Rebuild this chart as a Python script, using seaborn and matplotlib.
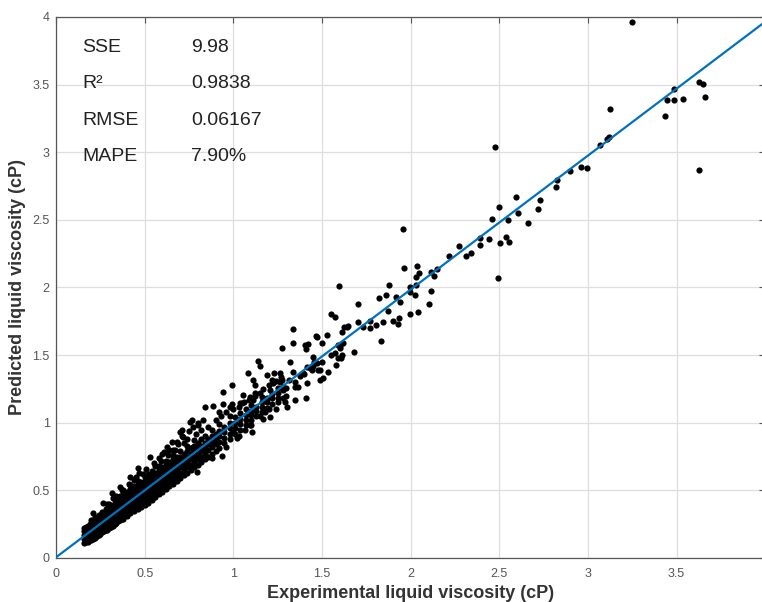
import matplotlib
matplotlib.use("Agg")
import matplotlib.pyplot as plt
import seaborn as sns
import pandas as pd

# Dense band of low-viscosity samples: experimental value -> predicted values
core_columns = [
    (0.16, [0.11, 0.14, 0.17, 0.20, 0.22]),
    (0.17, [0.12, 0.15, 0.18, 0.21, 0.23]),
    (0.18, [0.12, 0.15, 0.18, 0.21, 0.24]),
    (0.19, [0.13, 0.16, 0.19, 0.22, 0.25]),
    (0.20, [0.13, 0.16, 0.19, 0.22, 0.25, 0.28]),
    (0.21, [0.14, 0.17, 0.20, 0.23, 0.26]),
    (0.22, [0.15, 0.18, 0.21, 0.24, 0.27, 0.30]),
    (0.23, [0.16, 0.19, 0.22, 0.25, 0.28]),
    (0.24, [0.17, 0.20, 0.23, 0.26, 0.29, 0.32]),
    (0.25, [0.18, 0.21, 0.24, 0.27, 0.30]),
    (0.26, [0.19, 0.22, 0.25, 0.28, 0.31, 0.34]),
    (0.27, [0.20, 0.23, 0.26, 0.29, 0.32]),
    (0.28, [0.21, 0.24, 0.27, 0.30, 0.33, 0.36]),
    (0.29, [0.21, 0.24, 0.27, 0.30, 0.33, 0.36]),
    (0.30, [0.22, 0.25, 0.28, 0.31, 0.34, 0.37, 0.40]),
    (0.31, [0.23, 0.26, 0.29, 0.32, 0.35, 0.38]),
    (0.32, [0.24, 0.27, 0.30, 0.33, 0.36, 0.39]),
    (0.33, [0.25, 0.28, 0.31, 0.34, 0.37, 0.40, 0.43]),
    (0.34, [0.26, 0.29, 0.32, 0.35, 0.38, 0.41]),
    (0.35, [0.27, 0.30, 0.33, 0.36, 0.39, 0.42]),
    (0.36, [0.28, 0.31, 0.34, 0.37, 0.40, 0.43, 0.46]),
    (0.37, [0.29, 0.32, 0.35, 0.38, 0.41, 0.44]),
    (0.38, [0.29, 0.32, 0.35, 0.38, 0.41, 0.44, 0.47]),
    (0.40, [0.31, 0.34, 0.37, 0.40, 0.43, 0.46, 0.49]),
    (0.42, [0.33, 0.36, 0.39, 0.42, 0.45, 0.48, 0.51, 0.54]),
    (0.44, [0.35, 0.38, 0.41, 0.44, 0.47, 0.50, 0.53]),
    (0.46, [0.36, 0.39, 0.42, 0.45, 0.48, 0.51, 0.54, 0.57]),
    (0.48, [0.38, 0.41, 0.44, 0.47, 0.50, 0.53, 0.56]),
    (0.50, [0.39, 0.42, 0.45, 0.48, 0.51, 0.54, 0.57, 0.60]),
    (0.52, [0.41, 0.44, 0.47, 0.50, 0.53, 0.56, 0.59, 0.62]),
    (0.54, [0.43, 0.46, 0.49, 0.52, 0.55, 0.58, 0.61, 0.64]),
    (0.56, [0.45, 0.48, 0.51, 0.54, 0.57, 0.60, 0.63]),
    (0.58, [0.47, 0.50, 0.53, 0.56, 0.59, 0.62, 0.65, 0.68]),
    (0.60, [0.49, 0.52, 0.55, 0.58, 0.61, 0.64, 0.67]),
    (0.62, [0.51, 0.54, 0.57, 0.60, 0.63, 0.66, 0.69, 0.72]),
    (0.64, [0.53, 0.56, 0.59, 0.62, 0.65, 0.68, 0.71]),
    (0.66, [0.55, 0.58, 0.61, 0.64, 0.67, 0.70, 0.73, 0.76]),
    (0.68, [0.57, 0.60, 0.63, 0.66, 0.69, 0.72, 0.75]),
    (0.70, [0.59, 0.63, 0.67, 0.71, 0.75, 0.79]),
    (0.72, [0.61, 0.65, 0.69, 0.73, 0.77]),
    (0.74, [0.63, 0.67, 0.71, 0.75, 0.79, 0.83]),
    (0.76, [0.65, 0.69, 0.73, 0.77, 0.81]),
    (0.78, [0.67, 0.71, 0.75, 0.79, 0.83, 0.87]),
    (0.80, [0.69, 0.73, 0.77, 0.81, 0.85]),
    (0.82, [0.71, 0.75, 0.79, 0.83, 0.88]),
    (0.84, [0.73, 0.77, 0.81, 0.85, 0.90]),
    (0.86, [0.75, 0.80, 0.84, 0.88]),
    (0.88, [0.77, 0.82, 0.86, 0.90, 0.95]),
    (0.90, [0.79, 0.84, 0.88, 0.92]),
    (0.92, [0.81, 0.86, 0.90, 0.94, 0.99]),
    (0.95, [0.85, 0.89, 0.93, 0.97]),
    (0.98, [0.88, 0.92, 0.96, 1.00, 1.05]),
    (1.01, [0.92, 0.96, 1.00, 1.04]),
    (1.04, [0.95, 0.99, 1.03, 1.07]),
    (1.07, [0.98, 1.02, 1.06, 1.10]),
    (1.10, [1.02, 1.06, 1.09, 1.13]),
    (1.13, [1.05, 1.09, 1.12]),
    (1.16, [1.08, 1.12, 1.15, 1.19]),
    (1.19, [1.11, 1.15, 1.18]),
    (1.22, [1.14, 1.18, 1.21]),
    (1.25, [1.18, 1.22, 1.26]),
]

# Scattered samples around the band (experimental, predicted)
spread_points = [
    (0.21, 0.33), (0.267, 0.404), (0.29, 0.40), (0.314, 0.478), (0.34, 0.46),
    (0.361, 0.527), (0.38, 0.50), (0.417, 0.601), (0.44, 0.58), (0.464, 0.663),
    (0.49, 0.62), (0.53, 0.749), (0.55, 0.70), (0.58, 0.74), (0.60, 0.77),
    (0.624, 0.823), (0.652, 0.86), (0.66, 0.80), (0.709, 0.946), (0.718, 0.897),
    (0.70, 0.934), (0.756, 1.008), (0.765, 1.02), (0.775, 0.823), (0.803, 0.996),
    (0.822, 0.799), (0.84, 1.114), (0.85, 0.848), (0.887, 1.124), (0.921, 1.082),
    (0.944, 1.139), (0.94, 1.23), (0.98, 1.12), (0.991, 1.139), (0.994, 1.277),
    (1.038, 1.148), (1.047, 1.144), (1.056, 1.205), (1.081, 1.37), (1.094, 1.193),
    (1.113, 1.168), (1.113, 1.316), (1.122, 1.279), (1.122, 1.218), (1.141, 1.459),
    (1.151, 1.42), (1.151, 1.218), (1.188, 1.353), (1.207, 1.242), (1.217, 1.316),
    (1.226, 1.291), (1.23, 1.37), (1.263, 1.37), (1.263, 1.304), (1.273, 1.316),
    (1.276, 1.555), (1.282, 1.267), (1.282, 1.181), (1.282, 1.242), (1.301, 1.119),
    (1.316, 1.316), (1.32, 1.451), (1.335, 1.695), (1.337, 1.587), (1.338, 1.377),
    (1.348, 1.267), (1.348, 1.168), (1.367, 1.267), (1.376, 1.348), (1.395, 1.366),
    (0.934, 0.754), (0.793, 0.638), (1.0, 0.946), (1.066, 0.946), (1.094, 0.983),
    (1.019, 0.885), (1.104, 0.934), (1.207, 1.045), (1.15, 1.05), (1.2, 1.1),
    (1.25, 1.15), (1.18, 1.08), (1.3, 1.2), (1.3, 1.26), (1.35, 1.30),
    (1.4, 1.36), (1.45, 1.42), (1.5, 1.45), (1.55, 1.5), (1.6, 1.57),
    (0.32, 0.44), (0.37, 0.50), (0.41, 0.55), (0.45, 0.60), (0.47, 0.63),
    (0.51, 0.66), (0.56, 0.68), (0.59, 0.72), (0.63, 0.76), (0.67, 0.80),
    (0.69, 0.84), (0.72, 0.85), (0.74, 0.88), (0.79, 0.92), (0.82, 0.95),
    (0.86, 0.97), (0.90, 1.02), (0.93, 1.05), (0.96, 1.08), (1.00, 1.10),
    (1.03, 1.12), (1.06, 1.15), (1.09, 1.17), (1.12, 1.20), (1.17, 1.25),
    (1.20, 1.28), (1.24, 1.31), (1.27, 1.34), (0.88, 0.74), (0.96, 0.82),
    (1.03, 0.90), (1.10, 0.98), (1.17, 1.03), (1.24, 1.10), (1.29, 1.15),
    (0.61, 0.78), (0.64, 0.80), (0.68, 0.86), (0.71, 0.90), (0.75, 0.94),
    (0.77, 0.97), (0.80, 0.98), (0.83, 1.02),
]

# Higher-viscosity samples (experimental, predicted)
upper_points = [
    (1.404, 1.575), (1.41, 1.543), (1.41, 1.185), (1.414, 1.414), (1.414, 1.291),
    (1.42, 1.58), (1.433, 1.402), (1.442, 1.39), (1.451, 1.488), (1.457, 1.451),
    (1.465, 1.641), (1.47, 1.44), (1.47, 1.636), (1.48, 1.39), (1.489, 1.316),
    (1.489, 1.39), (1.499, 1.587), (1.504, 1.329), (1.527, 1.647), (1.536, 1.377),
    (1.551, 1.802), (1.572, 1.784), (1.574, 1.513), (1.579, 1.427), (1.592, 1.575),
    (1.592, 1.476), (1.594, 2.009), (1.602, 1.55), (1.606, 1.476), (1.611, 1.673),
    (1.611, 1.501), (1.617, 1.587), (1.626, 1.71), (1.639, 1.71), (1.645, 1.718),
    (1.683, 1.523), (1.701, 1.881), (1.703, 1.743), (1.73, 1.71), (1.771, 1.755),
    (1.771, 1.698), (1.803, 1.723), (1.824, 1.925), (1.833, 1.602), (1.842, 1.747),
    (1.863, 1.945), (1.871, 1.829), (1.876, 2.018), (1.899, 1.755), (1.916, 1.93),
    (1.931, 1.728), (1.933, 1.772), (1.94, 1.895), (1.959, 2.433), (1.961, 2.146),
    (1.995, 1.802), (1.997, 1.965), (1.998, 2.001), (2.023, 1.945), (2.029, 2.016),
    (2.032, 2.075), (2.034, 2.161), (2.04, 1.819), (2.047, 2.105), (2.102, 1.876),
    (2.117, 2.117), (2.117, 1.976), (2.134, 2.085), (2.149, 2.136), (2.214, 2.235),
    (2.273, 2.307), (2.313, 2.235), (2.34, 2.258), (2.39, 2.313), (2.39, 2.368),
    (2.442, 2.356), (2.461, 2.504), (2.476, 3.039), (2.495, 2.072), (2.50, 2.597),
    (2.506, 2.327), (2.538, 2.371), (2.551, 2.499), (2.553, 2.339), (2.594, 2.667),
    (2.608, 2.549), (2.662, 2.477), (2.719, 2.583), (2.732, 2.649), (2.822, 2.743),
    (2.828, 2.793), (2.897, 2.864), (2.96, 2.893), (2.995, 2.886), (3.068, 3.054),
    (3.11, 3.096), (3.12, 3.113), (3.123, 3.32), (3.25, 3.96), (3.435, 3.27),
    (3.448, 3.384), (3.486, 3.465), (3.486, 3.384), (3.535, 3.394), (3.625, 3.52),
    (3.647, 3.507), (3.627, 2.871), (3.66, 3.41),
]

# Fitted line and goodness-of-fit statistics
fit_slope = 0.99
fit_intercept = 0.005
stat_names = ["SSE", "R²", "RMSE", "MAPE"]
stat_values = ["9.98", "0.9838", "0.06167", "7.90%"]

tick_values = [0, 0.5, 1, 1.5, 2, 2.5, 3, 3.5, 4]
tick_labels = ["0", "0.5", "1", "1.5", "2", "2.5", "3", "3.5", "4"]

# Assemble the table of samples
rows = []
for x, ys in core_columns:
    for y in ys:
        rows.append((x, y))
rows.extend(spread_points)
rows.extend(upper_points)
df = pd.DataFrame(rows, columns=["experimental", "predicted"])

fit_df = pd.DataFrame({"experimental": [0.0, 4.0]})
fit_df["predicted"] = fit_slope * fit_df["experimental"] + fit_intercept

sns.set_theme(style="white")
plt.rcParams["font.family"] = ["Liberation Sans", "DejaVu Sans"]

fig = plt.figure(figsize=(7.62, 6.02), dpi=100)
ax = fig.add_axes([0.0735, 0.0731, 0.9307, 0.8987])

sns.scatterplot(data=df, x="experimental", y="predicted", ax=ax,
                color="black", s=20, linewidth=0, zorder=3)
sns.lineplot(data=fit_df, x="experimental", y="predicted", ax=ax,
             color="#0072BD", linewidth=1.6, zorder=4)

ax.set_xlim(0, 4)
ax.set_ylim(0, 4)
ax.set_xticks(tick_values)
ax.set_xticklabels(tick_labels)
ax.set_yticks(tick_values)
ax.set_yticklabels(tick_labels)

ax.grid(True, color="#dedede", linewidth=0.9)
ax.set_axisbelow(True)
for side in ["top", "bottom", "left", "right"]:
    ax.spines[side].set_visible(True)
    ax.spines[side].set_color("#555555")
    ax.spines[side].set_linewidth(0.9)

ax.tick_params(axis="both", which="major", direction="in", length=4,
               width=0.8, color="#555555", labelsize=9, labelcolor="#555555",
               top=True, right=True)
ax.tick_params(axis="y", pad=4.5)
ax.tick_params(axis="x", pad=7)

ax.set_xlabel("Experimental liquid viscosity (cP)", fontsize=13,
              fontweight="bold", color="#333333")
ax.set_ylabel("Predicted liquid viscosity (cP)", fontsize=13,
              fontweight="bold", color="#333333")
ax.xaxis.set_label_coords(0.5, -0.05)
ax.yaxis.set_label_coords(-0.043, 0.5)

stat_rows_y = [3.778, 3.505, 3.238, 2.965]
for name, value, yy in zip(stat_names, stat_values, stat_rows_y):
    ax.text(0.147, yy, name, fontsize=14, color="#222222", va="center", ha="left")
    ax.text(0.761, yy, value, fontsize=14, color="#222222", va="center", ha="left")

fig.savefig("out.png", dpi=100)
